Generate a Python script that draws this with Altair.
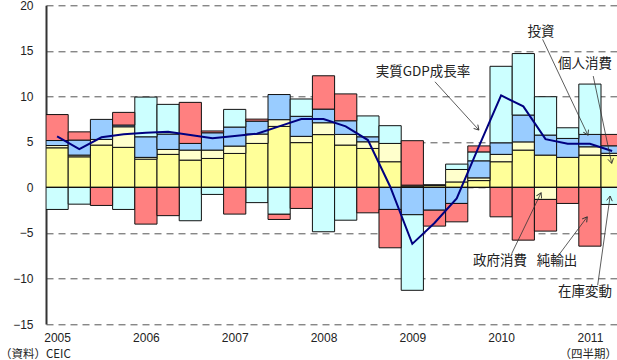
import math
import altair as alt
import pandas as pd

# ---- data (2005Q1 .. 2011Q2), contributions in % points ----
years = ["2005", "2006", "2007", "2008", "2009", "2010", "2011"]
series_names = ["個人消費", "政府消費", "投資", "在庫変動", "純輸出"]
series_colors = ["#FFFF99", "#FFFFCC", "#99CCFF", "#CCFFFF", "#FF8080"]

consumption = [4.35, 3.36, 4.65, 4.40, 3.10, 3.63, 3.00, 3.18, 3.73, 4.83, 6.70, 4.92, 5.80,
               4.65, 4.28, 2.82, 0.15, 0.20, 0.60, 0.75, 2.82, 4.10, 3.55, 3.30, 3.55, 3.50]
government = [0.25, 0.19, 0.62, 2.26, 0.20, 0.54, 1.10, 0.92, 0.81, 1.03, 0.74, 0.69, 1.30,
              1.17, 0.73, 2.01, 0.10, 0.10, 1.37, 0.30, 0.81, 0.90, -1.32, 0.00, 0.91, 0.25]
investment = [0.55, 1.65, 2.20, 0.19, 2.26, 1.69, 0.73, 1.90, 2.09, 1.42, 2.76, 2.20, 1.50,
              1.50, 0.55, -2.42, -3.00, -2.50, -1.76, 1.87, 1.27, 2.95, 2.20, 2.08, 1.36, 0.82]
inventory = [-2.42, -1.84, 0.00, -2.42, 4.36, 3.26, -3.66, -0.77, 1.94, -1.67, -2.95, 1.90, -4.87,
             -3.60, 2.29, 1.95, -8.30, 0.00, 0.59, 0.98, 8.40, 6.75, 4.21, 1.17, 5.53, -1.87]
net_exports = [2.85, 0.90, -1.98, 1.39, -4.03, -3.10, 4.51, 0.20, -2.93, 0.22, -0.57, -2.31, 3.66,
               2.95, -2.79, -4.21, 4.88, -1.75, -2.02, 0.66, -3.23, -5.79, -3.48, -1.76, -6.45, 1.25]
gdp_growth = [5.6, 4.2, 5.5, 5.85, 6.0, 6.1, 5.75, 5.4, 5.65, 5.9, 6.7, 7.5, 7.5,
              6.7, 5.2, 0.1, -6.2, -3.9, -1.2, 4.5, 10.1, 8.9, 5.3, 4.8, 4.8, 4.0]

# annotations: label, text position, arrow from -> to (data units: quarter index, %)
ann_labels = ["投資", "個人消費", "実質GDP成長率", "政府消費", "純輸出", "在庫変動"]
ann_tx = [22.3, 24.28, 16.98, 20.45, 23.02, 24.28]
ann_ty = [17.07, 13.55, 12.67, -8.1, -8.1, -11.49]
ann_x0 = [22.37, 24.65, 17.52, 20.98, 23.15, 24.85]
ann_y0 = [16.26, 12.23, 11.6, -7.25, -7.25, -10.74]
ann_x1 = [24.41, 25.48, 19.50, 22.30, 24.38, 25.41]
ann_y1 = [5.74, 2.64, 6.3, -0.6, -3.23, -0.95]

# ---- tables ----
n = len(gdp_growth)
rows = []
for k, (name, vals) in enumerate(zip(series_names,
                                     [consumption, government, investment, inventory, net_exports])):
    for i in range(n):
        if vals[i] != 0:
            rows.append({"q": i, "start": i, "end": i + 1, "series": name, "ord": k, "value": vals[i]})
bars_df = pd.DataFrame(rows)
line_df = pd.DataFrame({"mid": [i + 0.5 for i in range(n)], "gdp": gdp_growth})

XPX, YPX = 22.2, 9.1  # px per unit, for arrowhead angles
ann_df = pd.DataFrame({
    "label": ann_labels, "tx": ann_tx, "ty": ann_ty,
    "x0": ann_x0, "y0": ann_y0, "x1": ann_x1, "y1": ann_y1,
})
ann_df["ang"] = [
    math.degrees(math.atan2(-(b1 - b0) * YPX, (a1 - a0) * XPX)) % 360
    for a0, b0, a1, b1 in zip(ann_x0, ann_y0, ann_x1, ann_y1)
]

year_arr = "[" + ",".join("'%s'" % y for y in years) + "]"
x_scale = alt.Scale(domain=[0, 25.72], nice=False, zero=False)
y_scale = alt.Scale(domain=[-15, 20], nice=False)
x_axis = alt.Axis(values=[0.5 + 4 * j for j in range(len(years))],
                  labelExpr=year_arr + "[floor(datum.value / 4)]",
                  domain=False, ticks=False, grid=False, title=None,
                  labelFont="Liberation Sans", labelFontSize=12, labelColor="#222",
                  labelPadding=8, labelFlush=False, labelOverlap=False)
y_axis = alt.Axis(values=[-15, -10, -5, 0, 5, 10, 15, 20], title=None,
                  grid=True, gridDash=[7, 5], gridColor="#555", gridWidth=1,
                  domain=True, domainColor="#333", domainWidth=2, ticks=False,
                  labelFont="Liberation Sans", labelFontSize=12, labelColor="#222",
                  labelPadding=13)

bars = alt.Chart(bars_df).transform_stack(
    stack="value", groupby=["q"], sort=[alt.SortField("ord", order="ascending")], as_=["y0", "y1"]
).mark_bar(stroke="#111", strokeWidth=1, clip=True).encode(
    x=alt.X("start:Q", scale=x_scale, axis=x_axis),
    x2="end:Q",
    y=alt.Y("y0:Q", scale=y_scale, axis=y_axis),
    y2="y1:Q",
    color=alt.Color("series:N", scale=alt.Scale(domain=series_names, range=series_colors), legend=None),
)

zero = alt.Chart(pd.DataFrame({"z": [0]})).mark_rule(color="#111", strokeWidth=1.2).encode(
    y=alt.Y("z:Q", scale=y_scale, axis=y_axis)
)

line = alt.Chart(line_df).mark_line(color="#000080", strokeWidth=2).encode(
    x=alt.X("mid:Q", scale=x_scale, axis=x_axis),
    y=alt.Y("gdp:Q", scale=y_scale, axis=y_axis),
)

arrows = alt.Chart(ann_df).mark_rule(color="#333", strokeWidth=0.8).encode(
    x=alt.X("x0:Q", scale=x_scale, axis=x_axis), x2="x1:Q",
    y=alt.Y("y0:Q", scale=y_scale, axis=y_axis), y2="y1:Q",
)

heads = alt.Chart(ann_df).mark_point(
    shape="M -1 -0.6 L 0 0 L -1 0.6", filled=False, stroke="#333", strokeWidth=0.9, size=90, opacity=1
).encode(
    x=alt.X("x1:Q", scale=x_scale, axis=x_axis),
    y=alt.Y("y1:Q", scale=y_scale, axis=y_axis),
    angle=alt.Angle("ang:Q", scale=None),
)

labels = alt.Chart(ann_df).mark_text(
    font="Noto Sans CJK JP", fontSize=13.5, color="#222", align="center", baseline="middle"
).encode(
    x=alt.X("tx:Q", scale=x_scale, axis=x_axis),
    y=alt.Y("ty:Q", scale=y_scale, axis=y_axis),
    text="label:N",
)

notes_df = pd.DataFrame({"t": ["（資料）CEIC", "（四半期）"]})
note_left = alt.Chart(notes_df.iloc[[0]]).mark_text(
    font="Noto Sans CJK JP", fontSize=11.5, color="#222", align="left", baseline="bottom"
).encode(x=alt.value(-46), y=alt.value(354.7), text="t:N")
note_right = alt.Chart(notes_df.iloc[[1]]).mark_text(
    font="Noto Sans CJK JP", fontSize=11.5, color="#222", align="right", baseline="bottom"
).encode(x=alt.value(571), y=alt.value(354.7), text="t:N")

chart = alt.layer(bars, zero, line, arrows, heads, labels, note_left, note_right).properties(
    width=571, height=318.7,
    padding={"left": 46, "top": 5.3, "right": 0, "bottom": 36},
    autosize=alt.AutoSizeParams(type="none"),
    background="white",
).configure_view(stroke=None)

chart.save("out.html", embed_options={"renderer": "svg", "actions": False})
